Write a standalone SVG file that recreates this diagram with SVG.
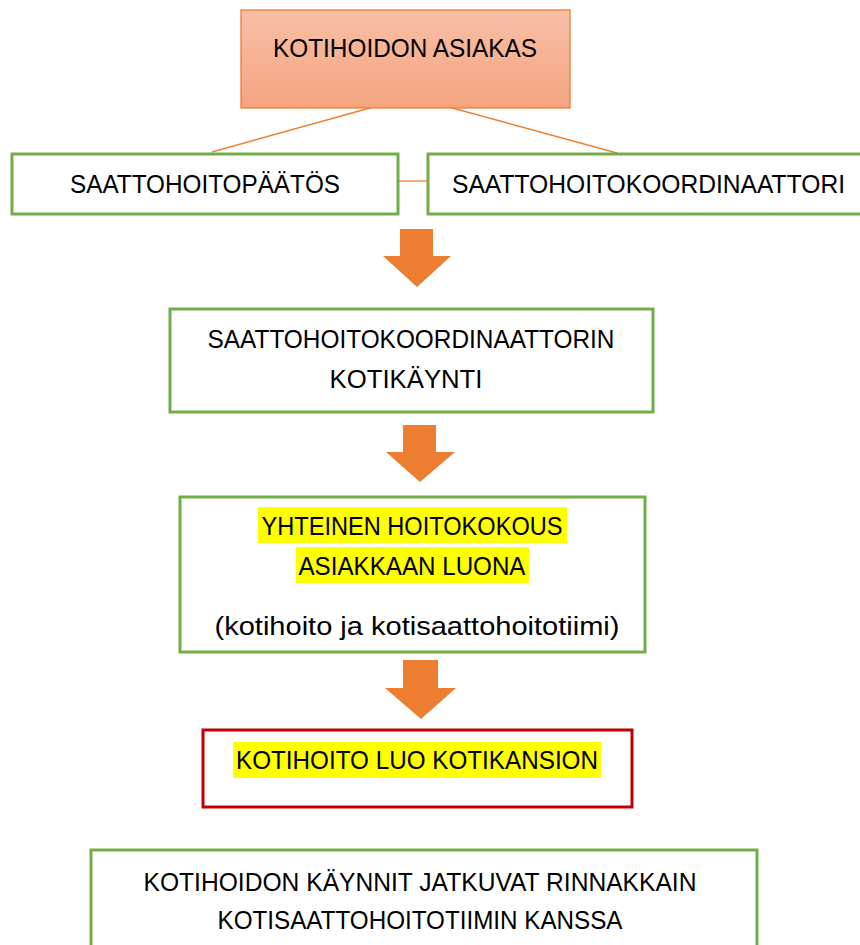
<svg xmlns="http://www.w3.org/2000/svg" width="860" height="945" viewBox="0 0 860 945">
<style>
text{font-family:"Liberation Sans",Arial,sans-serif;font-size:25px;fill:#000}
.g{fill:#fff;stroke:#70ad47;stroke-width:3}
.r{fill:#fff;stroke:#c00000;stroke-width:3}
.hl{fill:#ffff00}
.ln{stroke:#ed7d31;stroke-width:1.3;fill:none}
.ar{fill:#ed7d31}
</style>
<defs>
<linearGradient id="og" x1="0" y1="0" x2="0" y2="1">
<stop offset="0" stop-color="#f8c0a7"/>
<stop offset="1" stop-color="#f4a37e"/>
</linearGradient>
</defs>
<g id="connectors">
<line class="ln" x1="377" y1="106" x2="212" y2="152"/>
<line class="ln" x1="445" y1="106" x2="617" y2="153"/>
<line class="ln" x1="399" y1="181" x2="427" y2="181"/>
<polygon class="ar" points="400,229 433,229 433,256 451,256 417,287 383,256 400,256"/>
<polygon class="ar" points="403,425 436,425 436,452 455,452 420,482 386,452 403,452"/>
<polygon class="ar" points="403,660 438,660 438,688 456,688 421,719 385,688 403,688"/>
</g>
<g id="n1">
<rect x="241" y="10" width="329" height="98" fill="url(#og)" stroke="#ed7d31" stroke-width="1.3"/>
<text x="405" y="57" text-anchor="middle" textLength="264" lengthAdjust="spacingAndGlyphs">KOTIHOIDON ASIAKAS</text>
</g>
<g id="n2">
<rect class="g" x="12" y="154" width="386" height="60"/>
<text x="205" y="193" text-anchor="middle" textLength="270" lengthAdjust="spacingAndGlyphs">SAATTOHOITOPÄÄTÖS</text>
</g>
<g id="n3">
<rect class="g" x="428" y="154" width="440" height="60"/>
<text x="452" y="193" textLength="393" lengthAdjust="spacingAndGlyphs">SAATTOHOITOKOORDINAATTORI</text>
</g>
<g id="n4">
<rect class="g" x="170" y="309" width="483" height="103"/>
<text x="411" y="348" text-anchor="middle" textLength="407" lengthAdjust="spacingAndGlyphs">SAATTOHOITOKOORDINAATTORIN</text>
<text x="406" y="388" text-anchor="middle" textLength="153" lengthAdjust="spacingAndGlyphs">KOTIKÄYNTI</text>
</g>
<g id="n5">
<rect class="g" x="180" y="497" width="465" height="155"/>
<rect class="hl" x="258" y="507" width="309" height="36"/>
<rect class="hl" x="296" y="547" width="233" height="36"/>
<text x="412" y="535" text-anchor="middle" textLength="301" lengthAdjust="spacingAndGlyphs">YHTEINEN HOITOKOKOUS</text>
<text x="412" y="575" text-anchor="middle" textLength="227" lengthAdjust="spacingAndGlyphs">ASIAKKAAN LUONA</text>
<text x="417" y="635" text-anchor="middle" textLength="405" lengthAdjust="spacingAndGlyphs">(kotihoito ja kotisaattohoitotiimi)</text>
</g>
<g id="n6">
<rect class="r" x="203" y="730" width="429" height="77"/>
<rect class="hl" x="233" y="742" width="368" height="36"/>
<text x="417" y="769" text-anchor="middle" textLength="362" lengthAdjust="spacingAndGlyphs">KOTIHOITO LUO KOTIKANSION</text>
</g>
<g id="n7">
<rect class="g" x="91" y="850" width="666" height="110"/>
<text x="420" y="891" text-anchor="middle" textLength="553" lengthAdjust="spacingAndGlyphs">KOTIHOIDON KÄYNNIT JATKUVAT RINNAKKAIN</text>
<text x="420" y="929" text-anchor="middle" textLength="405" lengthAdjust="spacingAndGlyphs">KOTISAATTOHOITOTIIMIN KANSSA</text>
</g>
</svg>
